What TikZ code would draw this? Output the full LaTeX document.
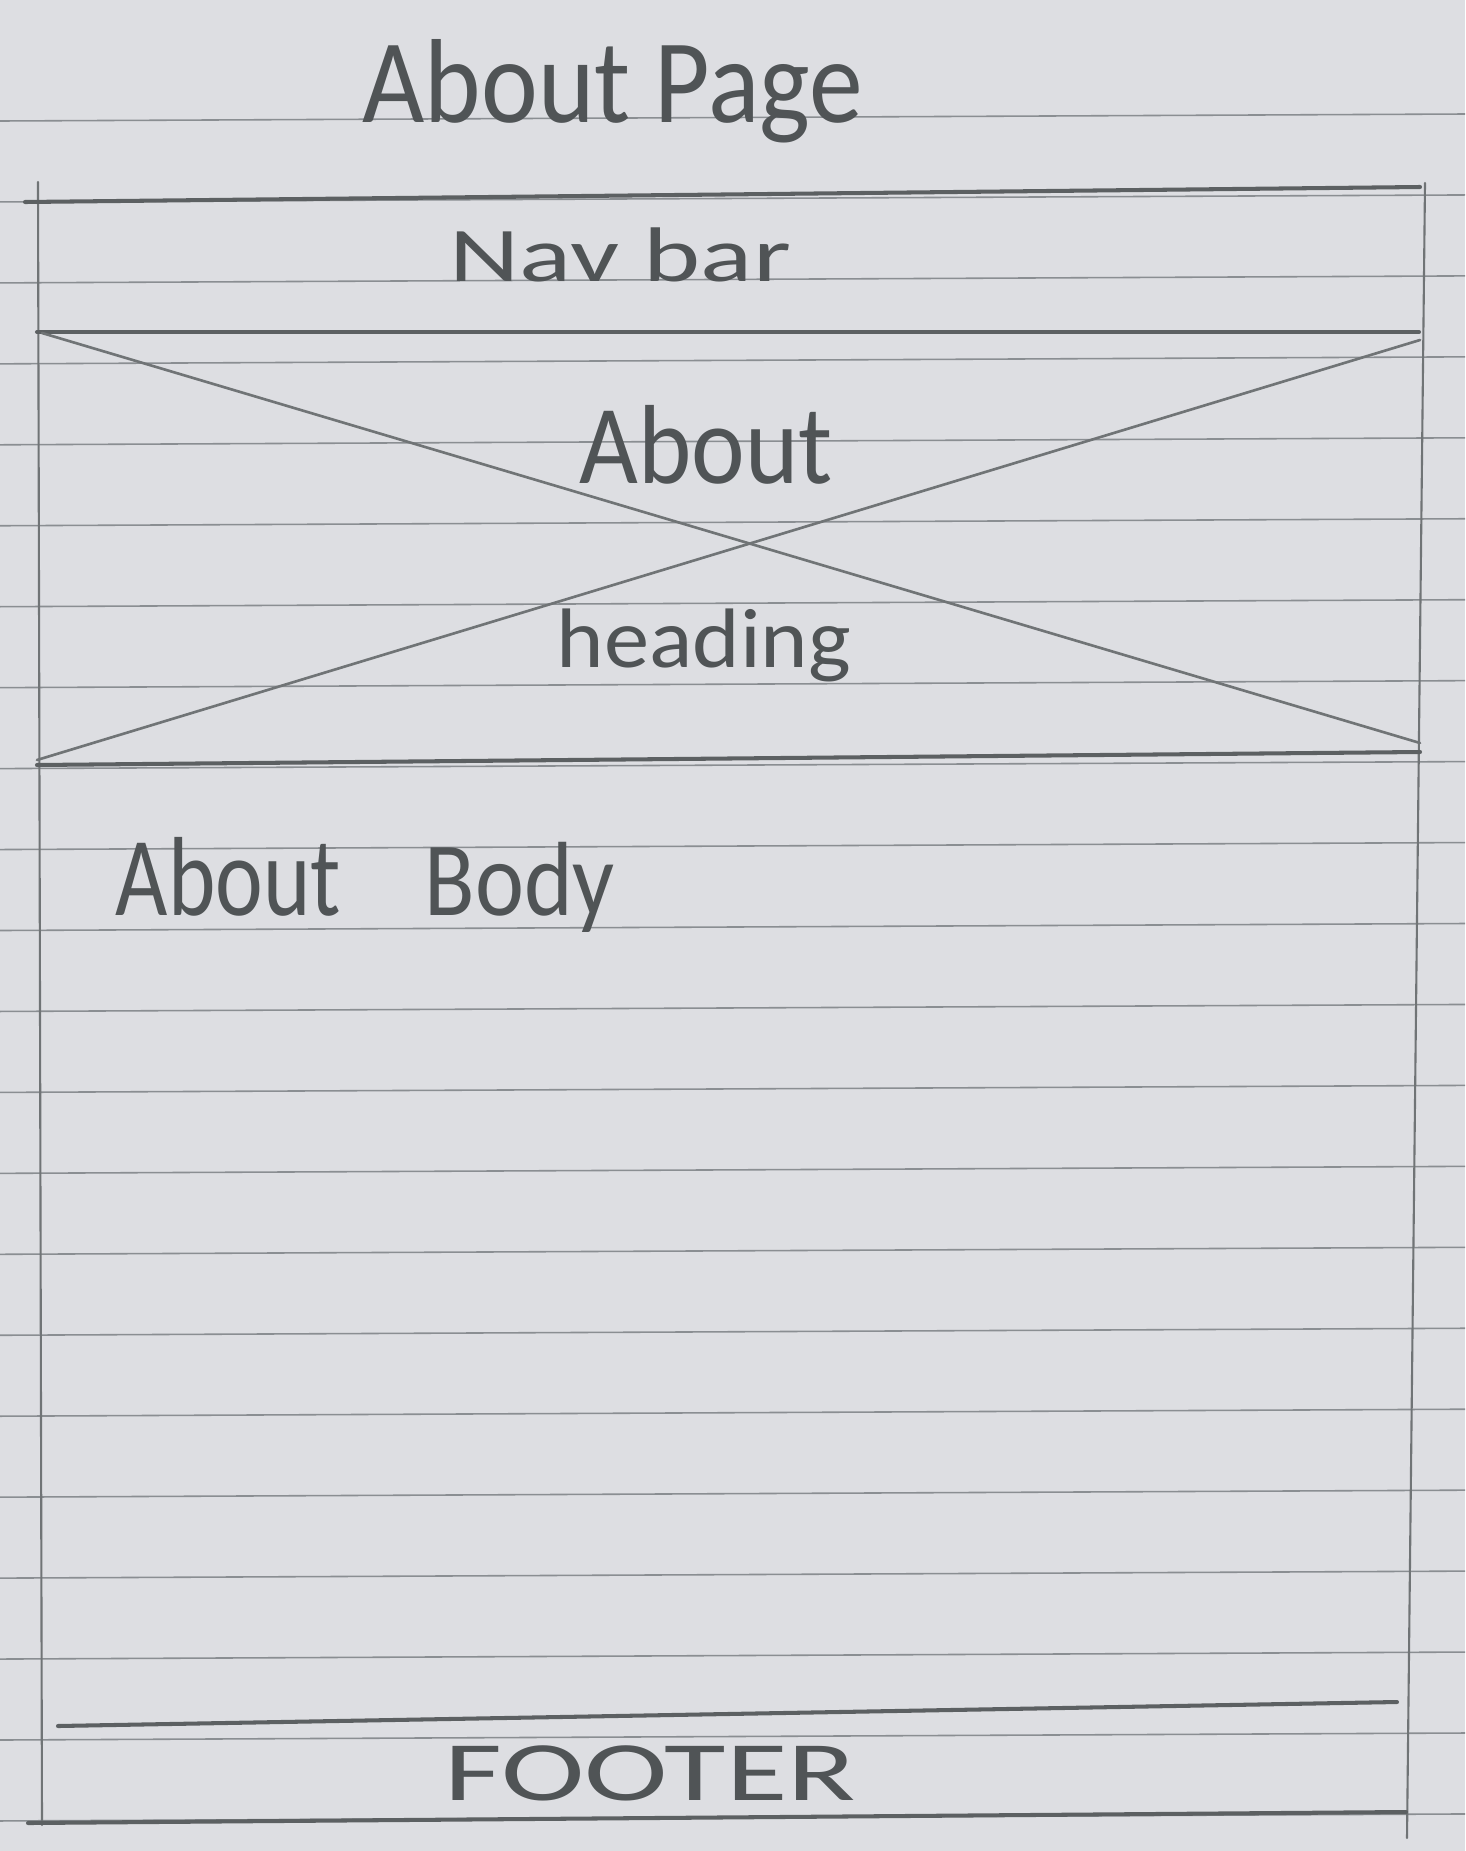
\documentclass[tikz,border=0pt]{standalone}
\usepackage{fontspec}
\usepackage{graphicx}
\setmainfont{Carlito}
\definecolor{paper}{RGB}{221,222,226}
\definecolor{ruleline}{RGB}{138,142,146}
\definecolor{pencilgrey}{RGB}{112,116,118}
\definecolor{pencildark}{RGB}{92,96,98}
\definecolor{inkgrey}{RGB}{80,84,86}
% squeeze or stretch a label to a given width, keeping its height
\newcommand{\handw}[3]{\resizebox{#1}{\height}{\fontsize{#2}{#2}\selectfont #3}}
\begin{document}
\begin{tikzpicture}[x=0.01cm,y=-0.01cm,
  rule/.style={draw=ruleline,line width=0.45pt},
  edge/.style={draw=pencilgrey,line width=0.6pt,line cap=round},
  heavy/.style={draw=pencildark,line width=1.15pt,line cap=round},
  cross/.style={draw=pencilgrey,line width=0.75pt,line cap=round},
  hand/.style={text=inkgrey,inner sep=0pt,anchor=base west}]

% sheet of lined paper
\fill[paper] (0,0) rectangle (1465,1851);
\useasboundingbox (0,0) rectangle (1465,1851);
\foreach \k in {0,...,21}{
  \draw[rule] (0,{121+80.95*\k}) -- (1465,{114+80.95*\k});
}

% frame corners
\coordinate (tl) at (25,202);
\coordinate (tr) at (1420,187);
\coordinate (vl0) at (38,182);
\coordinate (vl1) at (42,1825);
\coordinate (vr0) at (1425,183);
\coordinate (vr1) at (1407,1838);
\coordinate (navl) at (37,332);
\coordinate (navr) at (1419,332);
\coordinate (hdl) at (37,765);
\coordinate (hdr) at (1420,752);
\coordinate (ftl) at (58,1726);
\coordinate (ftr) at (1397,1702);
\coordinate (bl) at (28,1823);
\coordinate (br) at (1406,1812);
\coordinate (xa0) at (42,333);
\coordinate (xa1) at (1420,743);
\coordinate (xb0) at (37,760);
\coordinate (xb1) at (1420,340);

% page frame
\draw[edge] (vl0) -- (vl1);
\draw[edge] (vr0) -- (vr1);
\draw[heavy] (tl) -- (tr);
\draw[heavy] (navl) -- (navr);
\draw[heavy] (hdl) -- (hdr);
\draw[heavy] (ftl) -- (ftr);
\draw[heavy] (bl) -- (br);

% image placeholder cross in the heading block
\draw[cross] (xa0) -- (xa1);
\draw[cross] (xb0) -- (xb1);

% labels
\node[hand] (title) at (362,122) {\handw{5.0cm}{34pt}{About Page}};
\node[hand] (nav) at (449,281) {\handw{3.41cm}{22pt}{Nav bar}};
\node[hand] (head1) at (579,483) {\handw{2.53cm}{32pt}{About}};
\node[hand] (head2) at (556,667) {\handw{2.94cm}{24pt}{heading}};
\node[hand] (body1) at (115,915) {\handw{2.25cm}{32pt}{About}};
\node[hand] (body2) at (424,915) {\handw{1.90cm}{30pt}{Body}};
\node[hand] (foot) at (444,1800) {\handw{4.11cm}{24pt}{FOOTER}};
\end{tikzpicture}
\end{document}
